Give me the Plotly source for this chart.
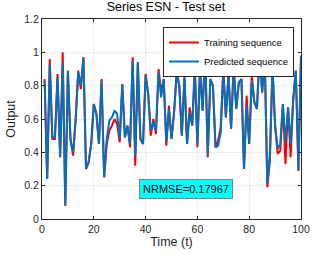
import plotly.graph_objects as go

t = list(range(1, 101))
training = [0.84, 0.24, 0.96, 0.48, 0.48, 0.87, 0.37, 1.00, 0.08, 0.89,
            0.48, 0.38, 0.60, 0.89, 0.78, 0.97, 0.30, 0.34, 0.45, 0.69,
            0.63, 0.45, 0.84, 0.25, 0.45, 0.53, 0.56, 0.60, 0.57, 0.46,
            0.81, 0.49, 0.56, 0.43, 0.97, 0.32, 0.94, 0.48, 0.45, 0.87,
            0.75, 0.50, 0.60, 0.51, 0.90, 0.76, 0.84, 0.44, 0.68, 0.48,
            0.64, 0.89, 0.80, 0.50, 0.85, 0.45, 0.67, 0.56, 0.93, 0.43,
            0.91, 0.65, 1.00, 0.37, 0.84, 0.80, 0.43, 0.47, 0.55, 0.91,
            0.61, 0.87, 0.54, 0.93, 0.66, 0.82, 0.84, 0.30, 0.74, 0.45,
            0.86, 0.70, 0.66, 1.00, 0.76, 0.97, 0.19, 0.35, 0.91, 0.56,
            0.39, 0.41, 0.69, 0.33, 0.67, 0.37, 0.72, 0.89, 0.29, 0.98]
predicted = [0.83, 0.24, 0.93, 0.49, 0.49, 0.85, 0.37, 0.94, 0.08, 0.89,
             0.47, 0.40, 0.60, 0.88, 0.80, 0.97, 0.30, 0.34, 0.45, 0.69,
             0.63, 0.45, 0.83, 0.25, 0.48, 0.59, 0.61, 0.65, 0.63, 0.48,
             0.81, 0.49, 0.56, 0.45, 0.95, 0.38, 0.94, 0.48, 0.45, 0.86,
             0.75, 0.53, 0.58, 0.53, 0.88, 0.73, 0.84, 0.46, 0.66, 0.48,
             0.64, 0.87, 0.80, 0.50, 0.85, 0.45, 0.64, 0.56, 0.88, 0.45,
             0.89, 0.65, 1.00, 0.39, 0.84, 0.80, 0.43, 0.44, 0.52, 0.88,
             0.61, 0.87, 0.54, 0.91, 0.66, 0.82, 0.84, 0.30, 0.68, 0.45,
             0.83, 0.70, 0.66, 1.00, 0.76, 0.97, 0.21, 0.40, 0.91, 0.56,
             0.42, 0.45, 0.69, 0.46, 0.67, 0.45, 0.72, 0.89, 0.29, 0.98]

x_ticks = [0, 20, 40, 60, 80, 100]
y_ticks = [0, 0.2, 0.4, 0.6, 0.8, 1.0, 1.2]
y_tick_labels = ["0", "0.2", "0.4", "0.6", "0.8", "1", "1.2"]

fig = go.Figure()
fig.add_trace(go.Scatter(x=t, y=training, mode="lines", name="Training sequence",
                         line=dict(color="#FF0000", width=2)))
fig.add_trace(go.Scatter(x=t, y=predicted, mode="lines", name="Predicted sequence",
                         line=dict(color="#0072BD", width=2)))

axis_common = dict(showline=True, mirror="ticks", linecolor="#262626", linewidth=1,
                   ticks="inside", ticklen=3, tickcolor="#262626", automargin=False,
                   showgrid=True, gridcolor="#EBEBEB", gridwidth=1, zeroline=False,
                   tickfont=dict(size=10.5, color="#262626"))

fig.update_layout(
    width=332, height=254,
    margin=dict(l=42, r=31, t=19, b=35),
    paper_bgcolor="white", plot_bgcolor="white",
    font=dict(family="Liberation Sans, Arial, sans-serif", color="#262626"),
    title=dict(text="Series ESN - Test set", x=0.5, xanchor="center", y=0.99, yanchor="top",
               font=dict(size=12.5, color="black")),
    xaxis=dict(range=[0, 100], tickvals=x_ticks,
               title=dict(text="Time (t)", font=dict(size=12.5), standoff=1), **axis_common),
    yaxis=dict(range=[0, 1.2], tickvals=y_ticks, ticktext=y_tick_labels,
               title=dict(text="Output", font=dict(size=12.5), standoff=5), **axis_common),
    legend=dict(x=0.973, xanchor="right", y=0.96, yanchor="top",
                bgcolor="white", bordercolor="#262626", borderwidth=1,
                font=dict(size=9.5, color="black"), tracegroupgap=0,
                itemwidth=30),
    showlegend=True,
    annotations=[dict(x=55.5, y=0.18, xref="x", yref="y", text="NRMSE=0.17967",
                      showarrow=False, bgcolor="#00FFFF", bordercolor="#7F7F7F",
                      borderwidth=1, borderpad=3, font=dict(size=11, color="black"))],
)

fig.write_html("out.html", config={"displayModeBar": False},
               post_script="document.body.style.margin='0';")
